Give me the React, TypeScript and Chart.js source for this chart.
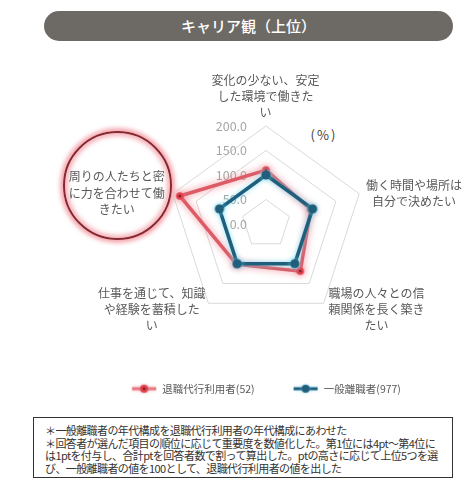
import React, { useEffect, useRef } from "react";
import { Chart, registerables } from "chart.js";

Chart.register(...registerables);

const TITLE = "キャリア観（上位）";
const UNIT_LABEL = "(%)";

const categories: string[][] = [
  ["変化の少ない、安定", "した環境で働きた", "い"],
  ["働く時間や場所は", "自分で決めたい"],
  ["職場の人々との信", "頼関係を長く築き", "たい"],
  ["仕事を通じて、知識", "や経験を蓄積した", "い"],
  ["周りの人たちと密", "に力を合わせて働", "きたい"],
];

const seriesNames = ["退職代行利用者(52)", "一般離職者(977)"];
const retireAgencyUsers = [110, 96, 119, 102, 185];
const generalLeavers = [100, 100, 100, 100, 100];

const axisMin = 0;
const axisMax = 200;
const axisStep = 50;

const notes = [
  "＊一般離職者の年代構成を退職代行利用者の年代構成にあわせた",
  "＊回答者が選んだ項目の順位に応じて重要度を数値化した。第1位には4pt～第4位に",
  "は1ptを付与し、合計ptを回答者数で割って算出した。ptの高さに応じて上位5つを選",
  "び、一般離職者の値を100として、退職代行利用者の値を出した",
];

const FONT = "'Noto Sans CJK JP', 'Noto Sans', sans-serif";
const RED = "#dc5c66";
const BLUE = "#1f5f7c";

// text block placement of each category label, relative to the radar centre
const LABEL_OFFSETS: [number, number][] = [
  [-0.5, -144],
  [148, -39],
  [110.5, 69],
  [-114.3, 69],
  [-149.3, -47.3],
];
const LABEL_LINE = 16.4;

const textPlugin = {
  id: "radarText",
  beforeDatasetsDraw(chart: any) {
    const scale = chart.scales.r;
    const ctx = chart.ctx as CanvasRenderingContext2D;
    ctx.save();
    ctx.font = `12.5px ${FONT}`;
    ctx.fillStyle = "#a6a6a6";
    ctx.textAlign = "right";
    ctx.textBaseline = "middle";
    scale.ticks.forEach((t: any) => {
      const d = scale.getDistanceFromCenterForValue(t.value);
      ctx.fillText(Number(t.value).toFixed(1), scale.xCenter - 19, scale.yCenter - d);
    });
    ctx.font = `12px ${FONT}`;
    ctx.fillStyle = "#595959";
    ctx.textAlign = "center";
    (chart.data.labels as string[][]).forEach((lines, i) => {
      const [dx, dy] = LABEL_OFFSETS[i];
      lines.forEach((ln, j) => {
        ctx.fillText(ln, scale.xCenter + dx, scale.yCenter + dy + j * LABEL_LINE);
      });
    });
    ctx.restore();
  },
};

const glowPlugin = {
  id: "glow",
  beforeDatasetDraw(chart: any, args: any) {
    const ds: any = chart.data.datasets[args.index];
    const ctx = chart.ctx as CanvasRenderingContext2D;
    ctx.save();
    ctx.shadowColor = ds.glowColor;
    ctx.shadowBlur = ds.glowBlur;
  },
  afterDatasetDraw(chart: any) {
    chart.ctx.restore();
  },
};

function makeMarker(fill: string, center: string | null, r: number) {
  const c = document.createElement("canvas");
  const s = Math.ceil(r * 2 + 2);
  c.width = s;
  c.height = s;
  const g = c.getContext("2d")!;
  g.fillStyle = fill;
  g.beginPath();
  g.arc(s / 2, s / 2, r, 0, Math.PI * 2);
  g.fill();
  if (center) {
    g.fillStyle = center;
    g.beginPath();
    g.arc(s / 2, s / 2, r * 0.35, 0, Math.PI * 2);
    g.fill();
  }
  return c;
}

function makeLegendIcon(line: string, glow: string, fill: string, center: string | null) {
  const c = document.createElement("canvas");
  c.width = 26;
  c.height = 12;
  const g = c.getContext("2d")!;
  g.shadowColor = glow;
  g.shadowBlur = 3;
  g.strokeStyle = line;
  g.lineWidth = 3;
  g.beginPath();
  g.moveTo(1, 6);
  g.lineTo(25, 6);
  g.stroke();
  g.fillStyle = fill;
  g.beginPath();
  g.arc(13, 6, 4, 0, Math.PI * 2);
  g.fill();
  g.shadowBlur = 0;
  if (center) {
    g.fillStyle = center;
    g.beginPath();
    g.arc(13, 6, 1.4, 0, Math.PI * 2);
    g.fill();
  }
  return c;
}

export default function App() {
  const ref = useRef<HTMLCanvasElement | null>(null);

  useEffect(() => {
    if (!ref.current) return;
    const redMarker = makeMarker("#e2434f", "#7d1a22", 3.8);
    const blueMarker = makeMarker(BLUE, null, 4.6);
    const icons = [
      makeLegendIcon("#e47a82", "rgba(240,120,130,0.7)", "#e2434f", "#7d1a22"),
      makeLegendIcon(BLUE, "rgba(120,210,235,0.7)", BLUE, null),
    ];
    const chart = new Chart(ref.current, {
      type: "radar",
      data: {
        labels: categories as any,
        datasets: [
          {
            label: seriesNames[0],
            data: retireAgencyUsers,
            borderColor: RED,
            borderWidth: 3.5,
            backgroundColor: "transparent",
            fill: false,
            pointStyle: redMarker as any,
            pointRadius: 4,
            order: 2,
            glowColor: "rgba(240,110,125,0.85)",
            glowBlur: 7,
          } as any,
          {
            label: seriesNames[1],
            data: generalLeavers,
            borderColor: BLUE,
            borderWidth: 3.5,
            backgroundColor: "transparent",
            fill: false,
            pointStyle: blueMarker as any,
            pointRadius: 4.5,
            order: 1,
            glowColor: "rgba(110,215,240,0.85)",
            glowBlur: 5,
          } as any,
        ],
      },
      options: {
        responsive: false,
        animation: false,
        layout: { padding: { left: 60, right: 0, top: 126, bottom: 0 } },
        elements: { line: { tension: 0 } },
        scales: {
          r: {
            min: axisMin,
            max: axisMax,
            ticks: { stepSize: axisStep, display: false },
            grid: { color: "#d9d9d9", lineWidth: 1 },
            angleLines: { display: false },
            pointLabels: { display: false },
          },
        },
        plugins: {
          tooltip: { enabled: false },
          legend: {
            position: "bottom",
            title: { display: true, text: "", font: { size: 10, lineHeight: 1 }, padding: { top: 12.25, bottom: 0 } },
            labels: {
              usePointStyle: true,
              pointStyleWidth: 26,
              padding: 38,
              color: "#595959",
              font: { size: 10.5, family: FONT },
              generateLabels: (c: any) =>
                c.data.datasets.map((ds: any, i: number) => ({
                  text: ds.label,
                  fillStyle: ds.borderColor,
                  strokeStyle: ds.borderColor,
                  lineWidth: 0,
                  pointStyle: icons[i],
                  hidden: false,
                  datasetIndex: i,
                  fontColor: "#595959",
                })),
            },
          },
        },
      },
      plugins: [textPlugin, glowPlugin],
    } as any);
    return () => chart.destroy();
  }, []);

  return (
    <div
      style={{
        position: "absolute",
        left: 0,
        top: 0,
        width: 472,
        height: 499,
        background: "#ffffff",
        overflow: "hidden",
        fontFamily: FONT,
      }}
    >
      <div
        style={{
          position: "absolute",
          left: 44,
          top: 11,
          width: 409,
          height: 30,
          borderRadius: 15,
          background: "#6d6a66",
          color: "#ffffff",
          fontSize: 15,
          fontWeight: 500,
          lineHeight: "30px",
          textAlign: "center",
        }}
      >
        {TITLE}
      </div>
      <div
        style={{
          position: "absolute",
          left: 63,
          top: 131,
          width: 109,
          height: 109,
          boxSizing: "border-box",
          borderRadius: "50%",
          border: "2px solid #8a2630",
          boxShadow: "0 0 4px 3px rgba(236,110,122,0.6), inset 0 0 4px 3px rgba(236,110,122,0.5)",
        }}
      />
      <div
        style={{
          position: "absolute",
          left: 299,
          top: 126,
          width: 50,
          textAlign: "center",
          fontSize: 13,
          letterSpacing: 2,
          color: "#404040",
          lineHeight: "18px",
        }}
      >
        {UNIT_LABEL}
      </div>
      <canvas
        ref={ref}
        width={472}
        height={404}
        style={{ position: "absolute", left: 0, top: 0, width: 472, height: 404 }}
      />
      <div
        style={{
          position: "absolute",
          left: 33,
          top: 417,
          width: 420,
          height: 61,
          boxSizing: "border-box",
          border: "1.5px solid #333333",
          padding: "6px 0 0 11px",
          fontSize: 11,
          lineHeight: "12.6px",
          color: "#333333",
          whiteSpace: "nowrap",
          letterSpacing: -0.6,
        }}
      >
        {notes.map((n, i) => (
          <div key={i}>{n}</div>
        ))}
      </div>
    </div>
  );
}
